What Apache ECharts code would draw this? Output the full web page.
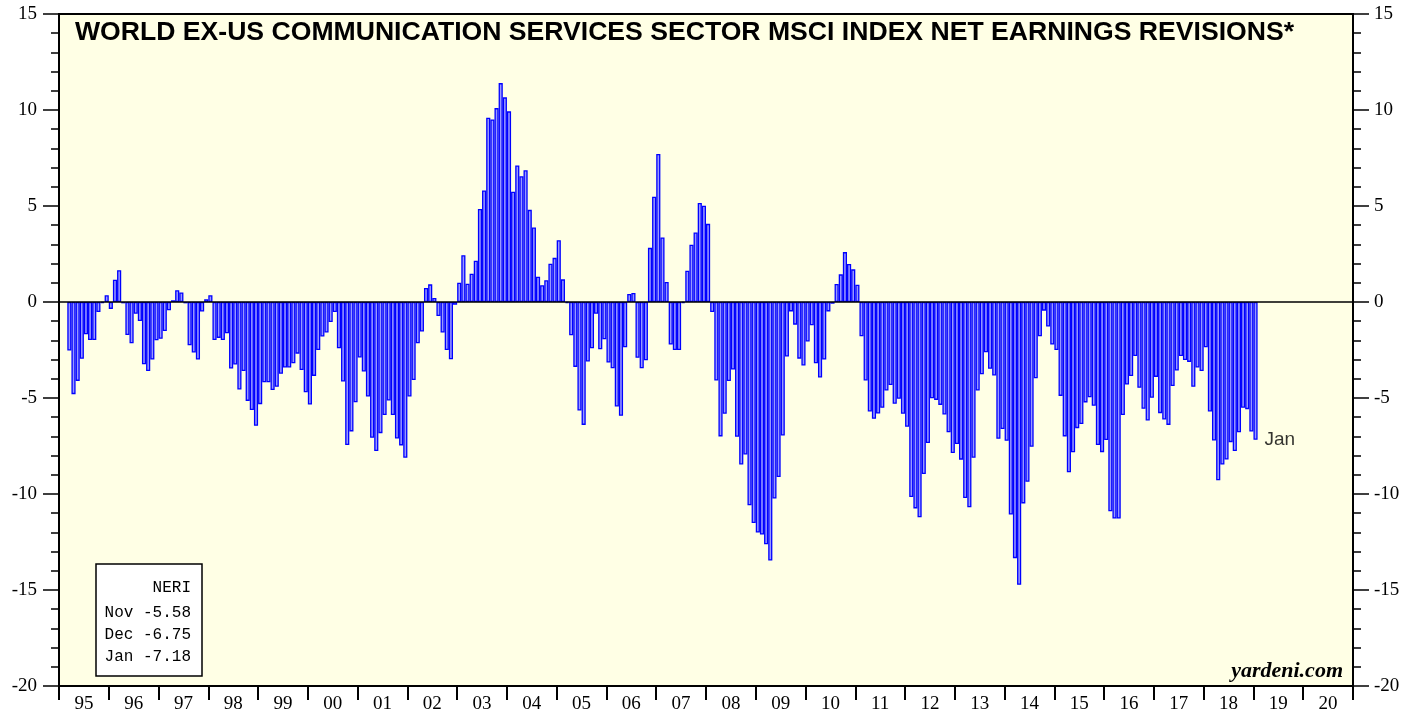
<!DOCTYPE html>
<html>
<head>
<meta charset="utf-8">
<script src="https://cdn.jsdelivr.net/npm/echarts@6/dist/echarts.min.js"></script>
<style>
html,body{margin:0;padding:0;background:#fff;}
#chart{width:1419px;height:715px;}
</style>
</head>
<body>
<div id="chart"></div>
<script>
// ---- data ----
const firstYear = 1995;
const lastYear = 2020;
const startMonthIndex = 2; // data begins March 1995
const yearLabels = ['95','96','97','98','99','00','01','02','03','04','05','06','07','08','09','10','11','12','13','14','15','16','17','18','19','20'];
const monthNames = ['Jan','Feb','Mar','Apr','May','Jun','Jul','Aug','Sep','Oct','Nov','Dec'];
// NERI, monthly, Mar 1995 - Jan 2019
const neri = [
  -2.53,-4.80,-4.11,-2.96,-1.68,-1.98,-1.98,-0.52,-0.05,0.35,
  -0.36,1.16,1.66,-0.07,-1.72,-2.15,-0.61,-0.99,-3.24,-3.60,-3.00,-1.99,
  -1.92,-1.51,-0.43,0.09,0.61,0.50,-0.07,-2.25,-2.63,-3.00,-0.50,0.14,
  0.35,-1.98,-1.87,-1.98,-1.63,-3.47,-3.26,-4.56,-3.60,-5.15,-5.63,-6.45,
  -5.32,-4.18,-4.18,-4.58,-4.42,-3.74,-3.41,-3.41,-3.19,-2.69,-3.54,-4.70,
  -5.34,-3.85,-2.50,-1.80,-1.59,-1.04,-0.52,-2.41,-4.14,-7.45,-6.74,-5.22,
  -2.89,-3.62,-4.92,-7.07,-7.76,-6.83,-5.89,-5.13,-5.89,-7.11,-7.47,-8.11,
  -4.92,-4.06,-2.15,-1.54,0.73,0.92,0.21,-0.73,-1.59,-2.50,-2.98,-0.14,
  1.00,2.44,0.95,1.47,2.15,4.84,5.81,9.60,9.51,10.10,11.40,10.66,
  9.93,5.74,7.11,6.55,6.86,4.80,3.88,1.32,0.87,1.13,1.99,2.30,
  3.22,1.18,-0.05,-1.73,-3.38,-5.65,-6.40,-3.10,-2.41,-0.61,-2.46,-1.94,
  -3.15,-3.45,-5.44,-5.93,-2.36,0.42,0.47,-2.91,-3.45,-3.03,2.82,5.48,
  7.71,3.36,1.04,-2.22,-2.50,-2.50,-0.05,1.63,2.98,3.62,5.16,5.01,
  4.07,-0.52,-4.09,-7.00,-5.82,-4.12,-3.52,-7.02,-8.46,-7.94,-10.59,-11.51,
  -12.01,-12.11,-12.62,-13.47,-10.24,-9.12,-6.95,-2.84,-0.49,-1.18,-2.95,-3.31,
  -2.06,-1.21,-3.19,-3.93,-3.00,-0.49,-0.09,0.94,1.44,2.60,1.98,1.70,
  0.90,-1.78,-4.09,-5.70,-6.08,-5.81,-5.51,-4.61,-4.32,-5.30,-5.04,-5.82,
  -6.50,-10.16,-10.75,-11.21,-8.96,-7.35,-5.01,-5.10,-5.36,-5.86,-6.78,-7.87,
  -7.40,-8.21,-10.21,-10.69,-8.11,-4.61,-3.76,-2.62,-3.48,-3.83,-7.12,-6.62,
  -7.23,-11.07,-13.34,-14.73,-10.49,-9.36,-7.54,-3.97,-1.79,-0.45,-1.28,-2.22,
  -2.50,-4.89,-7.00,-8.87,-7.83,-6.57,-6.36,-5.23,-4.96,-5.41,-7.45,-7.82,
  -7.19,-10.90,-11.28,-11.28,-5.89,-4.30,-3.86,-2.81,-4.47,-5.56,-6.17,-4.99,
  -3.90,-5.79,-6.12,-6.40,-4.38,-3.57,-2.81,-3.02,-3.12,-4.42,-3.41,-3.60,
  -2.36,-5.70,-7.21,-9.29,-8.47,-8.20,-7.30,-7.76,-6.78,-5.51,-5.58,-6.75,
  -7.18
];
const yTicks = {min: -20, max: 15, interval: 5};

// ---- build ----
const months = [];
for (let y = firstYear; y <= lastYear; y++) {
  for (let m = 0; m < 12; m++) months.push(y + '-' + monthNames[m]);
}
const barData = months.map((_, i) => {
  const k = i - startMonthIndex;
  return (k >= 0 && k < neri.length) ? neri[k] : '-';
});
const lastIdx = startMonthIndex + neri.length - 1;
const lastMonthName = monthNames[lastIdx % 12];
const legendLines = [];
for (let k = neri.length - 3; k < neri.length; k++) {
  const mi = (startMonthIndex + k) % 12;
  legendLines.push(monthNames[mi] + ' ' + neri[k].toFixed(2));
}

const chart = echarts.init(document.getElementById('chart'), null, {renderer: 'canvas'});
const serif = '"Liberation Serif", "Times New Roman", serif';
const sans = '"Liberation Sans", Arial, sans-serif';
const mono = '"Liberation Mono", "Courier New", monospace';

const yAxisCommon = {
  type: 'value', min: yTicks.min, max: yTicks.max, interval: yTicks.interval,
  splitLine: {show: false},
  axisLine: {show: true, lineStyle: {color: '#000', width: 2}},
  axisTick: {show: true, inside: false, length: 16, lineStyle: {color: '#000', width: 1.5}},
  minorTick: {show: true, splitNumber: 5, length: 8, lineStyle: {color: '#000', width: 1.5}},
  axisLabel: {color: '#000', fontFamily: serif, fontSize: 19, margin: 22}
};

const option = {
  animation: false,
  backgroundColor: '#fff',
  grid: {left: 59, right: 66, top: 14, bottom: 29, show: true,
         backgroundColor: '#ffffe5', borderColor: '#000', borderWidth: 2},
  xAxis: [
    {type: 'category', data: months, boundaryGap: true, position: 'bottom', z: 5,
     axisLine: {show: true, onZero: true, lineStyle: {color: '#000', width: 1.5}},
     axisTick: {show: false}, axisLabel: {show: false}, splitLine: {show: false}},
    {type: 'category', data: yearLabels, boundaryGap: true, position: 'bottom',
     axisLine: {show: true, onZero: false, lineStyle: {color: '#000', width: 2}},
     axisTick: {show: true, length: 14, inside: false, lineStyle: {color: '#000', width: 2}},
     axisLabel: {color: '#000', fontFamily: serif, fontSize: 19, margin: 9, interval: 0},
     splitLine: {show: false}}
  ],
  yAxis: [
    Object.assign({position: 'left'}, yAxisCommon),
    Object.assign({position: 'right'}, yAxisCommon, {axisLabel: Object.assign({}, yAxisCommon.axisLabel, {margin: 21})})
  ],
  series: [
    {type: 'bar', xAxisIndex: 0, yAxisIndex: 0, data: barData,
     barCategoryGap: '0%', barGap: '0%',
     itemStyle: {color: '#9999ff', borderColor: '#0000ff', borderWidth: 1.3}},
    {type: 'scatter', xAxisIndex: 0, yAxisIndex: 0, symbolSize: 0, silent: true,
     data: [[months[lastIdx], neri[neri.length - 1]]],
     label: {show: true, position: 'right', distance: 9, formatter: lastMonthName,
             color: '#000', fontFamily: sans, fontSize: 19}}
  ],
  graphic: [
    {type: 'text', z: 10,
     style: {x: 75, y: 33, text: 'WORLD EX-US COMMUNICATION SERVICES SECTOR MSCI INDEX NET EARNINGS REVISIONS*',
             verticalAlign: 'middle', font: 'bold 26.6px ' + sans, fill: '#000'}},
    {type: 'rect', shape: {x: 96, y: 564, width: 106, height: 112}, z: 10,
     style: {fill: '#fff', stroke: '#000', lineWidth: 1.5}},
    {type: 'text', z: 11, style: {x: 191, y: 588, text: 'NERI', align: 'right', verticalAlign: 'middle', font: '16px ' + mono, fill: '#000'}},
    {type: 'text', z: 11, style: {x: 191, y: 613, text: legendLines[0], align: 'right', verticalAlign: 'middle', font: '16px ' + mono, fill: '#000'}},
    {type: 'text', z: 11, style: {x: 191, y: 635, text: legendLines[1], align: 'right', verticalAlign: 'middle', font: '16px ' + mono, fill: '#000'}},
    {type: 'text', z: 11, style: {x: 191, y: 657, text: legendLines[2], align: 'right', verticalAlign: 'middle', font: '16px ' + mono, fill: '#000'}},
    {type: 'text', z: 11, style: {x: 1343, y: 671, text: 'yardeni.com', align: 'right', verticalAlign: 'middle', font: 'italic bold 22px ' + serif, fill: '#000'}}
  ]
};
chart.setOption(option);
</script>
</body>
</html>
